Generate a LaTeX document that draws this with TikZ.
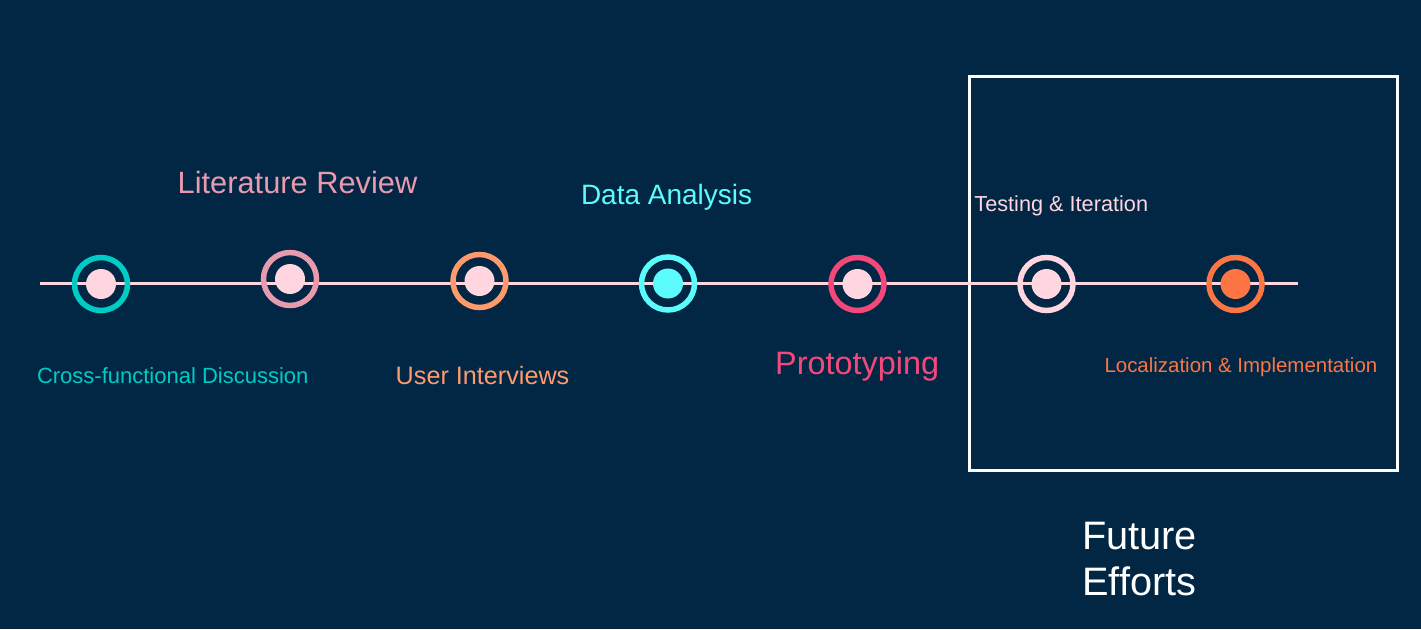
\documentclass[tikz,border=0pt]{standalone}
\usepackage{fontspec}
\setmainfont{Liberation Sans}
\definecolor{bg}{HTML}{012744}
\definecolor{cteal}{HTML}{00CCC6}
\definecolor{crose}{HTML}{E89BAE}
\definecolor{clight}{HTML}{FFD6E0}
\definecolor{csalmon}{HTML}{FF9A6C}
\definecolor{ccyan}{HTML}{5CFCFC}
\definecolor{chot}{HTML}{F5487A}
\definecolor{corange}{HTML}{FC7542}
\begin{document}
\begin{tikzpicture}[x=1pt,y=-1pt,
  ring/.style={circle,draw=#1,line width=5.5pt,minimum size=53pt,inner sep=0pt},
  dot/.style={circle,fill=#1,minimum size=30pt,inner sep=0pt},
  lbl/.style={anchor=base west,inner sep=0pt,text=#1},
  timeline/.style={draw=clight,line width=3pt}]
\fill[bg] (0,0) rectangle (1421,629);
\useasboundingbox (0,0) rectangle (1421,629);
% box
\node[draw=white,line width=3pt,minimum width=428pt,minimum height=394pt,inner sep=0pt,anchor=north west] (box) at (967.5,75) {};
% timeline
\coordinate (ls) at (40,283);
\coordinate (le) at (1298,283);
\draw[timeline] (ls) -- (le);
% milestones
\node[ring=cteal] (r1) at (101,284) {};
\node[dot=clight] (d1) at (101,284) {};
\node[ring=crose] (r2) at (290,279) {};
\node[dot=clight] (d2) at (290,279) {};
\node[ring=csalmon] (r3) at (479.5,281) {};
\node[dot=clight] (d3) at (479.5,281) {};
\node[ring=ccyan] (r4) at (668,283.5) {};
\node[dot=ccyan] (d4) at (668,283.5) {};
\node[ring=chot] (r5) at (857.5,284) {};
\node[dot=clight] (d5) at (857.5,284) {};
\node[ring=clight] (r6) at (1046.5,284) {};
\node[dot=clight] (d6) at (1046.5,284) {};
\node[ring=corange] (r7) at (1235.5,284) {};
\node[dot=corange] (d7) at (1235.5,284) {};
% labels
\node[lbl=crose,font=\fontsize{30.8}{36}\selectfont] (t2) at (177.5,193.5) {Literature Review};
\node[lbl=ccyan,font=\fontsize{28}{33}\selectfont] (t4) at (580.8,204) {Data Analysis};
\node[lbl=clight,font=\fontsize{21.7}{25}\selectfont] (t6) at (974.2,211.7) {Testing \& Iteration};
\node[lbl=cteal,font=\fontsize{22}{26}\selectfont] (t1) at (36.8,383.3) {Cross-functional Discussion};
\node[lbl=csalmon,font=\fontsize{25.2}{30}\selectfont] (t3) at (395.5,384.3) {User Interviews};
\node[lbl=chot,font=\fontsize{32.4}{38}\selectfont] (t5) at (775,374.5) {Prototyping};
\node[lbl=corange,font=\fontsize{20.45}{24}\selectfont] (t7) at (1104.3,372.7) {Localization \& Implementation};
\node[lbl=white,font=\fontsize{39.7}{45}\selectfont] (f1) at (1082,549) {Future};
\node[lbl=white,font=\fontsize{39.7}{45}\selectfont] (f2) at (1082,595) {Efforts};
\end{tikzpicture}
\end{document}
